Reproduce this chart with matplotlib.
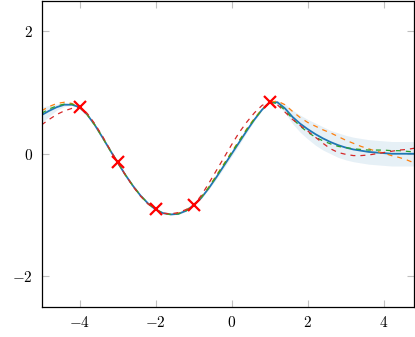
import numpy as np
import matplotlib.pyplot as plt
from matplotlib.ticker import FuncFormatter

plt.rcParams['mathtext.fontset'] = 'cm'

# grid the posterior was evaluated on
x = np.round(np.arange(-5.0, 4.81, 0.2), 1)

# posterior mean
mean = [0.63, 0.70, 0.76, 0.80, 0.80, 0.76, 0.64, 0.47, 0.27, 0.06,
        -0.14, -0.34, -0.52, -0.68, -0.81, -0.91, -0.97, -0.99, -0.98, -0.93,
        -0.84, -0.72, -0.56, -0.38, -0.19, 0.00, 0.19, 0.38, 0.56, 0.72,
        0.84, 0.84, 0.74, 0.60, 0.49, 0.40, 0.32, 0.25, 0.19, 0.14,
        0.10, 0.07, 0.05, 0.03, 0.02, 0.01, 0.00, 0.00, 0.00, 0.00]
# half width of the confidence band
band = [0.13, 0.09, 0.05, 0.03, 0.01, 0.00, 0.01, 0.01, 0.01, 0.01,
        0.00, 0.01, 0.01, 0.01, 0.01, 0.00, 0.01, 0.01, 0.01, 0.01,
        0.00, 0.01, 0.02, 0.03, 0.04, 0.04, 0.04, 0.03, 0.02, 0.01,
        0.00, 0.03, 0.07, 0.11, 0.14, 0.16, 0.18, 0.19, 0.19, 0.20,
        0.20, 0.20, 0.20, 0.20, 0.20, 0.20, 0.20, 0.20, 0.20, 0.20]

# posterior samples
s_orange = [0.70, 0.77, 0.82, 0.84, 0.82, 0.76, 0.64, 0.47, 0.27, 0.06,
            -0.14, -0.34, -0.52, -0.68, -0.81, -0.91, -0.97, -0.99, -0.97, -0.92,
            -0.84, -0.71, -0.54, -0.35, -0.16, 0.03, 0.22, 0.41, 0.58, 0.73,
            0.84, 0.86, 0.80, 0.69, 0.59, 0.51, 0.45, 0.39, 0.34, 0.28,
            0.22, 0.17, 0.12, 0.08, 0.04, 0.01, -0.03, -0.06, -0.10, -0.15]
s_green = [0.66, 0.73, 0.78, 0.81, 0.81, 0.76, 0.64, 0.47, 0.27, 0.06,
           -0.14, -0.34, -0.52, -0.68, -0.81, -0.91, -0.97, -0.99, -0.98, -0.93,
           -0.84, -0.71, -0.55, -0.36, -0.17, 0.02, 0.21, 0.40, 0.57, 0.72,
           0.84, 0.82, 0.71, 0.57, 0.45, 0.35, 0.27, 0.21, 0.16, 0.12,
           0.10, 0.08, 0.07, 0.06, 0.06, 0.06, 0.05, 0.05, 0.04, 0.03]
s_red = [0.47, 0.56, 0.64, 0.70, 0.74, 0.76, 0.66, 0.49, 0.29, 0.07,
         -0.14, -0.34, -0.53, -0.69, -0.82, -0.91, -0.97, -0.98, -0.96, -0.91,
         -0.84, -0.68, -0.48, -0.27, -0.06, 0.15, 0.35, 0.52, 0.67, 0.79,
         0.84, 0.80, 0.68, 0.56, 0.46, 0.37, 0.27, 0.17, 0.08, 0.02,
         -0.01, -0.03, -0.03, -0.02, 0.00, 0.02, 0.04, 0.06, 0.07, 0.09]

# observations
x_obs = [-4, -3, -2, -1, 1]
y_obs = [0.757, -0.141, -0.909, -0.841, 0.841]

mean = np.array(mean)
band = np.array(band)

fig = plt.figure(figsize=(4.15, 3.37), dpi=100)
ax = fig.add_axes([41.5/415, 30/337, 372.8/415, 306.5/337])

ax.fill_between(x, mean - band, mean + band, color='#1f77b4', alpha=0.11, lw=0)
ax.plot(x, mean, color='#1f77b4', lw=1.3)
for s, c in [(s_orange, '#ff7f0e'), (s_green, '#2ca02c'), (s_red, '#d62728')]:
    ax.plot(x, s, color=c, lw=0.9, ls=(0, (4, 4)))
ax.plot(x_obs, y_obs, 'x', color='red', ms=8, mew=1.6)

ax.set_xlim(-5, 4.8)
ax.set_ylim(-2.5, 2.5)
ax.set_xticks([-4, -2, 0, 2, 4])
ax.set_yticks([-2, 0, 2])
fmt = FuncFormatter(lambda v, p: r'$%d$' % v)
ax.xaxis.set_major_formatter(fmt)
ax.yaxis.set_major_formatter(fmt)
ax.tick_params(direction='in', length=5, width=0.8, color='#c0c0c0',
               top=True, right=True, labelsize=11, pad=6)
for sp in ax.spines.values():
    sp.set_linewidth(0.9)

fig.savefig('out.png', dpi=100)
